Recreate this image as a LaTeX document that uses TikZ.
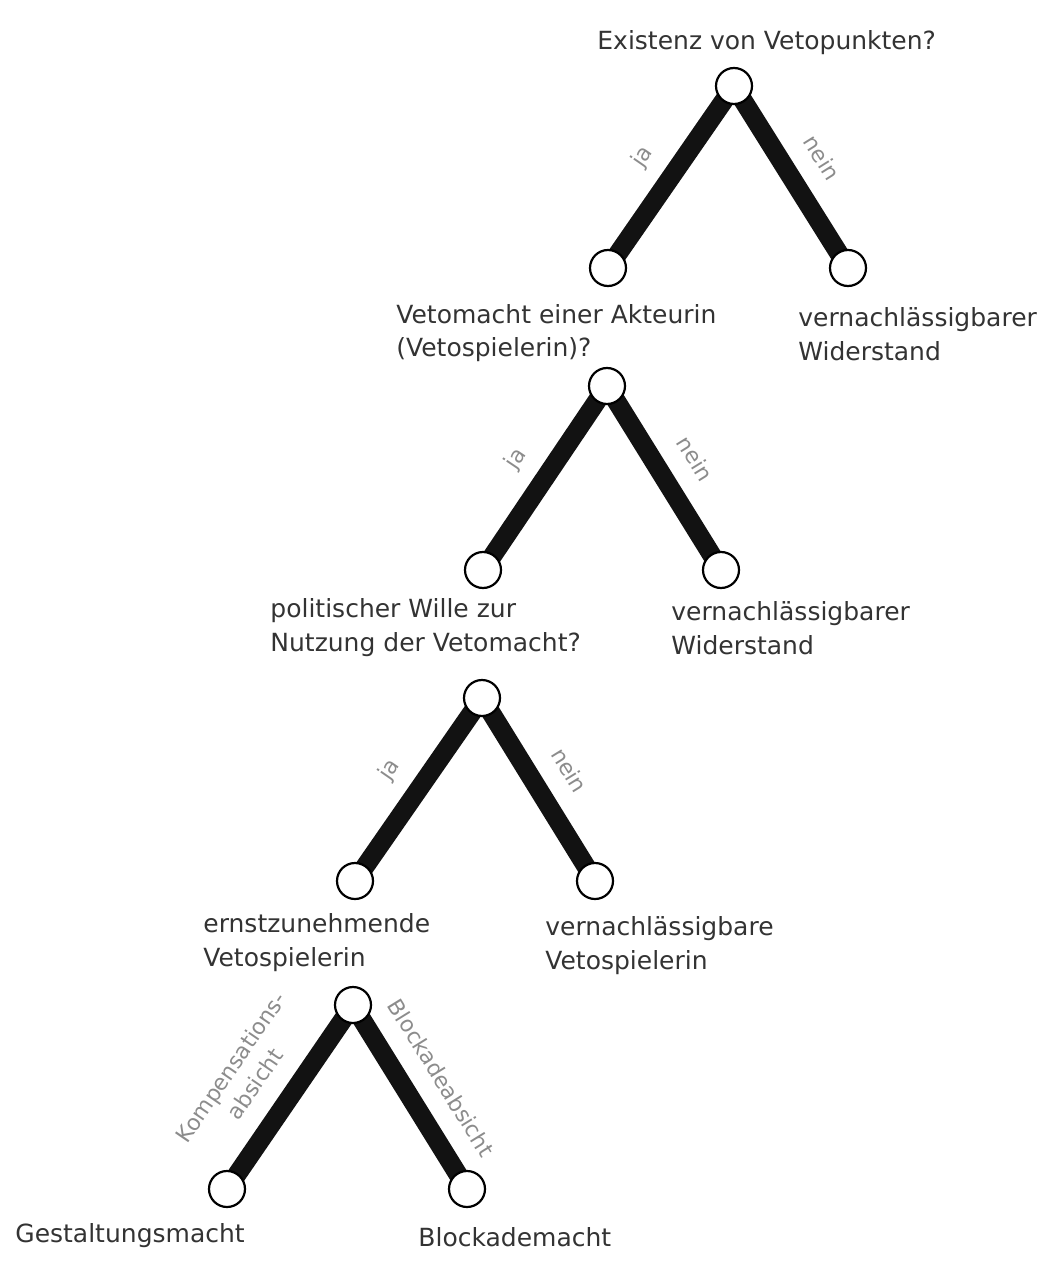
\documentclass[tikz,border=0pt]{standalone}
\usepackage{fontspec}
\setmainfont{DejaVu Sans}
\begin{document}
\begin{tikzpicture}[x=0.5pt,y=-0.5pt,
  dot/.style={circle,draw=black,line width=1.1pt,fill=white,minimum size=18pt,inner sep=0pt},
  branch/.style={line width=9.5pt,draw=black!93},
  elab/.style={sloped,above=9.5pt,inner sep=0pt,text depth=0pt,text=black!45,font=\fontsize{11}{14.5}\selectfont,pos=0.5},
  lab/.style={anchor=base west,align=left,inner sep=0pt,text=black!80,font=\fontsize{12.5}{17}\selectfont}]
\useasboundingbox (0,0) rectangle (1046,1262);
% circle positions
\coordinate (p1) at (734,86);
\coordinate (l1) at (608,268);
\coordinate (r1) at (848,268);
\coordinate (p2) at (607,386);
\coordinate (l2) at (483,570);
\coordinate (r2) at (721,570);
\coordinate (p3) at (482,698);
\coordinate (l3) at (355,881);
\coordinate (r3) at (595,881);
\coordinate (p4) at (353,1005);
\coordinate (l4) at (227,1189);
\coordinate (r4) at (467,1189);
% branches
\draw[branch] (p1) -- node[elab]{ja} (l1);
\draw[branch] (p1) -- node[elab]{nein} (r1);
\draw[branch] (p2) -- node[elab]{ja} (l2);
\draw[branch] (p2) -- node[elab]{nein} (r2);
\draw[branch] (p3) -- node[elab]{ja} (l3);
\draw[branch] (p3) -- node[elab]{nein} (r3);
\draw[branch] (p4) -- node[elab,align=center,pos=0.54]{Kompensations-\\absicht} (l4);
\draw[branch] (p4) -- node[elab]{Blockadeabsicht} (r4);
% dots
\foreach \n in {p1,l1,r1,p2,l2,r2,p3,l3,r3,p4,l4,r4}
  \node[dot] (c\n) at (\n) {};
% labels (base = baseline of last line)
\node[lab] (t1) at (597,50) {Existenz von Vetopunkten?};
\node[lab] (t2) at (396,357) {Vetomacht einer Akteurin\\(Vetospielerin)?};
\node[lab] (t3) at (798,360) {vernachlässigbarer\\Widerstand};
\node[lab] (t4) at (270,651) {politischer Wille zur\\Nutzung der Vetomacht?};
\node[lab] (t5) at (671,654) {vernachlässigbarer\\Widerstand};
\node[lab] (t6) at (203,966) {ernstzunehmende\\Vetospielerin};
\node[lab] (t7) at (545,969) {vernachlässigbare\\Vetospielerin};
\node[lab] (t8) at (15,1242) {Gestaltungsmacht};
\node[lab] (t9) at (418,1246) {Blockademacht};
\end{tikzpicture}
\end{document}
